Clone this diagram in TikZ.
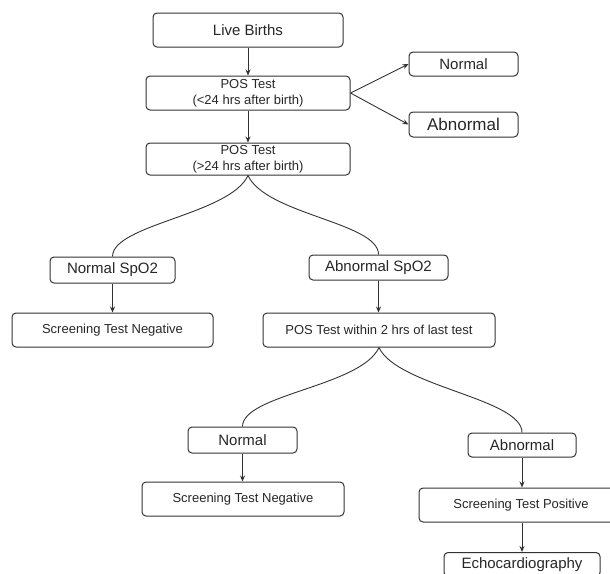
\documentclass[tikz,border=0pt]{standalone}
\usepackage{fontspec}
\setmainfont{Liberation Sans}
\usetikzlibrary{arrows.meta}

\begin{document}
\begin{tikzpicture}[
    x=1pt, y=-1pt,
    >={Stealth[length=6pt,width=5pt]},
    every node/.style={text=black!85},
    box/.style={draw=black!80, line width=1pt, rounded corners=4pt,
                inner sep=0pt, align=center},
    bigtext/.style={font=\fontsize{15}{17}\selectfont},
    smalltext/.style={font=\fontsize{13}{16}\selectfont},
    flow/.style={draw=black!80, line width=0.9pt}
]

% ============================================================
% Bildausschnitt (Pixelraster 610 x 573)
% ============================================================
\clip (0,0) rectangle (610,573);

% ============================================================
% Erste Messung
% ============================================================
\node[box, bigtext, minimum width=190pt, minimum height=34pt]
    (LiveBirths) at (248,30) {Live Births};
\node[box, smalltext, minimum width=204pt, minimum height=34pt]
    (POSEarly) at (248,93) {POS Test\\(<24 hrs after birth)};
\node[box, bigtext, minimum width=109pt, minimum height=24pt]
    (NormalEarly) at (463.5,64) {Normal};
\node[box, font=\fontsize{17}{19}\selectfont, minimum width=109pt, minimum height=25pt]
    (AbnormalEarly) at (463.5,124.5) {Abnormal};
\node[box, smalltext, minimum width=204pt, minimum height=32pt]
    (POSLate) at (248,159) {POS Test\\(>24 hrs after birth)};

% ============================================================
% Zweite Messung (SpO2)
% ============================================================
\node[box, bigtext, minimum width=125pt, minimum height=26pt]
    (NormalSpO) at (112.5,270) {Normal SpO2};
\node[box, bigtext, minimum width=139pt, minimum height=25pt]
    (AbnormalSpO) at (378.5,267.5) {Abnormal SpO2};
\node[box, smalltext, minimum width=201pt, minimum height=34pt]
    (NegFirst) at (112.5,330) {Screening Test Negative};
\node[box, smalltext, minimum width=232pt, minimum height=34pt]
    (POSRepeat) at (379,330) {POS Test within 2 hrs of last test};

% ============================================================
% Wiederholung
% ============================================================
\node[box, bigtext, minimum width=109pt, minimum height=26pt]
    (NormalLate) at (242.5,440) {Normal};
\node[box, bigtext, minimum width=108pt, minimum height=24pt]
    (AbnormalLate) at (522,445) {Abnormal};
\node[box, smalltext, minimum width=202pt, minimum height=34pt]
    (NegSecond) at (243,499) {Screening Test Negative};
\node[box, smalltext, minimum width=204pt, minimum height=34pt]
    (PosResult) at (521,505) {Screening Test Positive};
\node[box, bigtext, minimum width=156pt, minimum height=24pt]
    (Echo) at (522,564.5) {Echocardiography};

% ============================================================
% Pfeile
% ============================================================
\draw[flow,->] (LiveBirths) -- (POSEarly);
\draw[flow,->] (POSEarly.east) -- (NormalEarly.west);
\draw[flow,->] (POSEarly.east) -- (AbnormalEarly.west);
\draw[flow,->] (POSEarly) -- (POSLate);

\draw[flow,->] (NormalSpO.south) -- (NormalSpO.south |- NegFirst.north);
\draw[flow,->] (AbnormalSpO.south) -- (AbnormalSpO.south |- POSRepeat.north);

\draw[flow,->] (NormalLate.south) -- (NormalLate.south |- NegSecond.north);
\draw[flow,->] (AbnormalLate.south) -- (AbnormalLate.south |- PosResult.north);
\draw[flow,->] (AbnormalLate.south |- PosResult.south) -- (AbnormalLate.south |- Echo.north);

% ============================================================
% Verzweigungen (geschwungen, ohne Pfeilspitze)
% ============================================================
\draw[flow] (POSLate.south) .. controls +(-18,39) and +(0,-32) .. (NormalSpO.north);
\draw[flow] (POSLate.south) .. controls +(18,39) and +(0,-32) .. (AbnormalSpO.north);

\draw[flow] (POSRepeat.south) .. controls +(-18,39) and +(0,-32) .. (NormalLate.north);
\draw[flow] (POSRepeat.south) .. controls +(18,39) and +(0,-34) .. (AbnormalLate.north);

\end{tikzpicture}
\end{document}
